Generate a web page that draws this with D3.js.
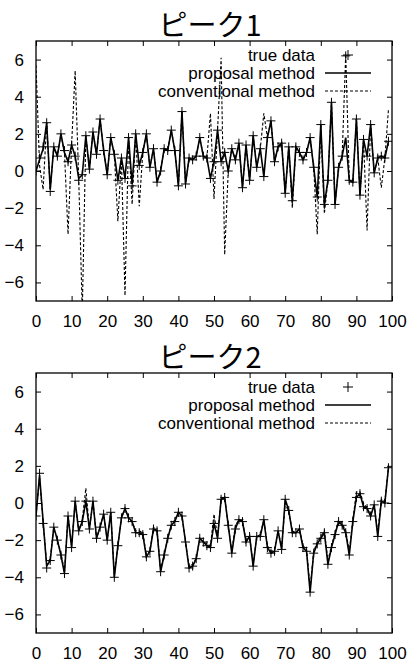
<!DOCTYPE html>
<html><head><meta charset="utf-8">
<script src="https://cdn.jsdelivr.net/npm/d3@7/dist/d3.min.js"></script>
<style>
body{margin:0;background:#fff}
text{font-family:"Liberation Sans",Arial,Helvetica,sans-serif;fill:#000}
</style>
</head><body>
<svg id="chart" width="410" height="662"></svg>
<script>
// ---------- data ----------
const xIndex = d3.range(100);
const xTicks = [0,10,20,30,40,50,60,70,80,90,100];
const yTicks = [-6,-4,-2,0,2,4,6];
const titles = ["ピーク1","ピーク2"];
const legendLabels = ["true data","proposal method","conventional method"];

const peak1True = [0.0,0.7,1.3,2.6,-1.1,1.3,0.8,2.0,1.1,0.5,1.4,0.8,-0.5,-0.2,1.9,0.1,2.1,0.9,2.8,1.1,
  -0.2,1.8,0.9,-0.5,0.7,-0.4,1.8,-0.8,2.0,0.3,1.0,2.0,0.2,1.2,-0.6,0.0,1.2,1.1,2.2,1.1,
  -0.8,3.2,-0.7,0.7,0.6,0.8,1.8,0.8,0.7,-0.4,0.5,2.2,0.5,1.0,0.0,1.2,0.6,1.5,-0.9,1.4,
  -0.5,1.9,0.2,1.2,-0.3,1.8,2.7,0.5,1.3,1.5,-1.2,1.3,-1.6,1.3,1.0,0.6,1.0,1.8,0.2,-1.4,
  2.5,-1.8,-0.5,3.7,-1.8,0.2,0.8,6.2,-0.5,-0.6,2.8,-1.3,1.7,0.8,2.5,-0.1,0.7,0.8,0.7,1.6];
const peak1Proposal = [0.0,0.6,1.2,2.6,-1.0,1.3,0.8,2.0,1.0,0.5,1.4,0.8,-0.4,-0.2,1.9,0.1,2.1,0.9,2.8,1.1,
  -0.2,1.8,0.9,-0.5,0.7,-0.4,1.8,-0.7,2.0,0.3,1.0,2.0,0.2,1.2,-0.6,0.0,1.2,1.1,2.2,1.1,
  -0.8,3.2,-0.7,0.7,0.6,0.8,1.8,0.8,0.7,-0.4,0.5,2.2,0.5,1.0,0.0,1.2,0.6,1.5,-0.9,1.4,
  -0.5,1.9,0.2,1.2,-0.3,1.8,2.7,0.5,1.3,1.5,-1.2,1.3,-1.6,1.3,1.0,0.6,1.0,1.8,0.2,-1.4,
  2.5,-1.8,-0.5,3.7,-1.8,0.2,0.8,1.8,-0.5,-0.6,2.8,-1.3,1.7,0.8,2.5,-0.1,0.7,0.8,0.7,1.6];
const peak1Conventional = [5.7,0.3,-1.0,2.6,-1.0,1.3,0.8,2.0,1.0,-3.4,1.4,5.4,-0.4,-7.6,1.9,0.1,2.1,0.9,2.8,1.1,
  -0.2,1.8,0.9,-2.7,0.7,-6.7,1.8,-1.8,2.0,-1.9,1.0,2.0,0.2,1.2,-0.6,0.0,1.2,1.1,2.2,1.1,
  -0.8,3.2,-0.7,0.7,0.6,0.8,1.8,0.8,0.7,3.1,-1.5,2.2,6.1,-4.5,0.0,1.2,0.6,1.5,-0.9,1.4,
  -0.5,1.9,0.2,1.2,3.1,1.8,2.7,0.5,1.3,1.5,-1.2,1.3,-2.0,1.3,1.0,0.6,1.0,1.8,0.2,-3.4,
  2.5,-2.3,-0.5,3.7,-1.8,0.2,0.8,6.3,-0.5,-0.6,2.8,-1.3,1.7,-3.2,2.5,-0.1,0.7,-0.9,0.7,3.3];

const peak2True = [-0.7,1.6,-1.1,-3.5,-3.1,-1.3,-2.0,-2.8,-3.8,-0.7,-2.4,0.1,-1.5,-1.0,0.1,-1.4,0.1,-1.9,-1.3,-0.6,
  -2.0,-0.5,-4.0,-2.3,-0.8,-0.3,-0.8,-1.0,-1.6,-1.6,-1.7,-2.9,-2.6,-1.4,-1.5,-3.7,-2.8,-1.9,-1.2,-1.0,
  -0.5,-0.7,-2.1,-3.5,-3.4,-3.0,-1.9,-2.1,-2.3,-2.4,-1.1,-1.9,0.2,0.3,-1.2,-2.7,-1.4,-0.9,-1.0,-2.1,
  -1.8,-3.4,-1.8,-1.8,-0.9,-2.4,-2.7,-2.6,-1.5,-2.5,0.2,-0.4,-1.6,-1.6,-1.4,-2.4,-2.6,-4.8,-2.7,-2.2,
  -1.9,-1.6,-3.3,-2.4,-1.7,-1.0,-1.2,-1.6,-2.8,-1.0,0.3,0.5,-0.2,-0.3,-0.7,-0.1,-1.8,0.1,0.0,1.9];
const peak2Proposal = [-0.7,1.5,-1.0,-3.4,-3.1,-1.3,-2.0,-2.8,-3.8,-0.7,-2.4,0.1,-1.5,-1.0,0.1,-1.4,0.1,-1.9,-1.3,-0.6,
  -2.0,-0.5,-4.0,-2.3,-0.8,-0.3,-0.8,-1.0,-1.6,-1.6,-1.7,-2.9,-2.6,-1.4,-1.5,-3.7,-2.8,-1.9,-1.2,-1.0,
  -0.5,-0.7,-2.1,-3.5,-3.4,-3.0,-1.9,-2.1,-2.3,-2.4,-1.1,-1.9,0.2,0.3,-1.2,-2.7,-1.4,-0.9,-1.0,-2.1,
  -1.8,-3.4,-1.8,-1.8,-0.9,-2.4,-2.7,-2.6,-1.5,-2.5,0.2,-0.4,-1.6,-1.6,-1.4,-2.4,-2.6,-4.8,-2.7,-2.2,
  -1.9,-1.6,-3.3,-2.4,-1.7,-1.0,-1.2,-1.6,-2.8,-1.0,0.3,0.5,-0.2,-0.3,-0.7,-0.1,-1.8,0.1,0.0,1.9];
const peak2Conventional = [-0.7,1.4,-1.0,-3.3,-3.0,-1.3,-2.0,-2.7,-3.7,-0.7,-2.3,0.1,-1.5,-0.9,0.8,-1.4,0.1,-1.9,-1.3,-0.6,
  -2.0,-0.5,-3.9,-2.3,-0.8,-0.3,-0.8,-1.0,-1.5,-1.5,-1.6,-2.8,-2.6,-1.3,-1.5,-3.6,-2.8,-1.9,-1.2,-0.9,
  -0.5,-0.7,-2.1,-3.4,-3.3,-3.0,-1.9,-2.1,-2.2,-2.3,-0.6,-1.8,0.2,0.3,-1.2,-2.6,-1.2,-0.9,-1.0,-2.0,
  -1.8,-3.3,-1.8,-1.7,-0.9,-2.3,-2.6,-2.5,-1.5,-2.4,0.0,-0.5,-1.5,-1.6,-1.4,-2.3,-2.5,-4.6,-2.6,-2.1,
  -1.8,-1.5,-3.1,-2.3,-1.6,-0.9,-1.1,-1.5,-2.6,-0.9,0.6,0.6,0.0,-0.3,-0.6,-0.1,-1.6,0.2,0.1,1.9];

// ---------- drawing ----------
const svg = d3.select("#chart");
const panels = [
  {title:titles[0], top:41, bottom:301, titleY:36, tru:peak1True, prop:peak1Proposal, conv:peak1Conventional},
  {title:titles[1], top:373, bottom:633, titleY:368, tru:peak2True, prop:peak2Proposal, conv:peak2Conventional}
];
const left = 36, right = 392;
const x = d3.scaleLinear().domain([0,100]).range([left,right]);
const plus = (cx,cy,s) => `M${cx-s},${cy}H${cx+s}M${cx},${cy-s}V${cy+s}`;

panels.forEach((p,pi) => {
  const y = d3.scaleLinear().domain([-7,7]).range([p.bottom,p.top]);
  const g = svg.append("g");

  g.append("text").attr("x",210).attr("y",p.titleY).attr("text-anchor","middle")
    .style("font-family",'"Noto Sans CJK JP","Noto Sans CJK SC",sans-serif')
    .style("font-size","29px").style("font-weight","normal").text(p.title);

  const clipId = "clip"+pi;
  svg.append("clipPath").attr("id",clipId).append("rect")
    .attr("x",left).attr("y",p.top).attr("width",right-left).attr("height",p.bottom-p.top);

  const ax = [
    g.append("g").attr("transform",`translate(0,${p.bottom})`)
      .call(d3.axisBottom(x).tickValues(xTicks).tickSize(-5).tickPadding(14).tickFormat(d3.format("d"))),
    g.append("g").attr("transform",`translate(0,${p.top})`)
      .call(d3.axisTop(x).tickValues(xTicks).tickSize(-5).tickFormat("")),
    g.append("g").attr("transform",`translate(${left},0)`)
      .call(d3.axisLeft(y).tickValues(yTicks).tickSize(-5).tickPadding(12).tickFormat(d3.format("d"))),
    g.append("g").attr("transform",`translate(${right},0)`)
      .call(d3.axisRight(y).tickValues(yTicks).tickSize(-5).tickFormat(""))
  ];
  ax.forEach(a => {
    a.select(".domain").remove();
    a.selectAll(".tick line").attr("stroke","#000").attr("stroke-width",1);
    a.selectAll(".tick text").style("font-size","17px").style("font-family",'"Liberation Sans",Arial,sans-serif').attr("fill","#000");
  });

  g.append("rect").attr("x",left).attr("y",p.top).attr("width",right-left).attr("height",p.bottom-p.top)
    .attr("fill","none").attr("stroke","#000").attr("stroke-width",1.3);

  const plot = g.append("g").attr("clip-path",`url(#${clipId})`);
  const line = arr => d3.line().x((d,i)=>x(xIndex[i])).y(d=>y(d))(arr);

  plot.append("path").attr("d",line(p.conv)).attr("fill","none").attr("stroke","#000")
    .attr("stroke-width",1.1).attr("stroke-dasharray","3,2");
  plot.append("path").attr("d",line(p.prop)).attr("fill","none").attr("stroke","#000")
    .attr("stroke-width",1.6);
  plot.append("path").attr("d",p.tru.map((d,i)=>plus(x(xIndex[i]),y(d),4.5)).join(""))
    .attr("fill","none").attr("stroke","#000").attr("stroke-width",1);

  const lg = g.append("g");
  legendLabels.forEach((lab,i) => {
    const ly = p.top + 14 + i*18;
    lg.append("text").attr("x",315).attr("y",ly).attr("dy","0.35em").attr("text-anchor","end")
      .style("font-size","17px").text(lab);
    if (i===0) {
      lg.append("path").attr("d",plus(348,ly,5)).attr("stroke","#000").attr("stroke-width",1).attr("fill","none");
    } else {
      lg.append("line").attr("x1",325).attr("x2",371).attr("y1",ly).attr("y2",ly)
        .attr("stroke","#000").attr("stroke-width",i===1?1.6:1.1)
        .attr("stroke-dasharray",i===2?"3,2":null);
    }
  });
});
</script>
</body></html>
